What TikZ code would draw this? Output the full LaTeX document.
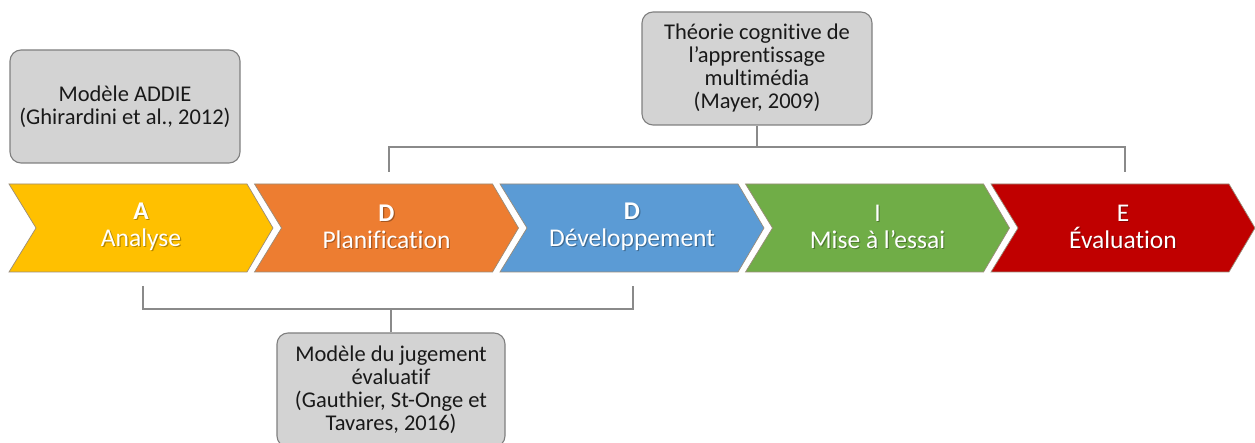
\documentclass[tikz,border=0pt]{standalone}
\usepackage{fontspec}
\setmainfont{Carlito}[Ligatures=CommonOff]
\usetikzlibrary{calc}
\definecolor{phaseA}{HTML}{FFC000}
\definecolor{phaseD}{HTML}{ED7D31}
\definecolor{phaseDev}{HTML}{5B9BD5}
\definecolor{phaseI}{HTML}{70AD47}
\definecolor{phaseE}{HTML}{C00000}
\definecolor{boxfill}{HTML}{D3D3D3}
\definecolor{boxline}{HTML}{7F7F7F}
\definecolor{linkline}{HTML}{8A8A8A}
\definecolor{chevline}{HTML}{9A8C7A}
\begin{document}
\begin{tikzpicture}[x=1pt,y=-1pt,
  refbox/.style={draw=boxline, fill=boxfill, line width=1.1pt,
    rounded corners=11pt, align=center, inner sep=0pt,
    text=black!90, font=\fontsize{22.5}{23}\selectfont},
  phase/.style={align=center, text=white, inner sep=0pt,
    font=\fontsize{25.5}{27}\selectfont},
  phaseshade/.style={phase, text=black, opacity=0.3},
  chevron/.style={draw=chevline, line width=0.7pt},
  link/.style={draw=linkline, line width=1.2pt}]
\useasboundingbox (0,0) rectangle (1255,443);
\clip (0,0) rectangle (1255,443);

% the five ADDIE phases as chevrons
\foreach \l/\col/\letter/\word/\nm in {
    9/phaseA/\textbf{A}/Analyse/pA,
    254.5/phaseD/\textbf{D}/Planification/pD,
    500/phaseDev/\textbf{D}/Développement/pDev,
    745.5/phaseI/I/Mise à l’essai/pI,
    991/phaseE/E/Évaluation/pE}{
  \fill[\col, chevron] (\l,184) -- (\l+238,184) -- (\l+264,228)
    -- (\l+238,272) -- (\l,272) -- (\l+27,228) -- cycle;
  \node[phaseshade] at (\l+133.2,228.2) {\letter\\\word};
  \node[phase] (\nm) at (\l+132,227) {\letter\\\word};
}

% reference models
\node[refbox, minimum width=230pt, minimum height=113pt] (addie) at (125,106.5)
  {Modèle ADDIE\\(Ghirardini et al., 2012)};
\node[refbox, minimum width=230pt, minimum height=113pt] (mayer) at (757,68.5)
  {Théorie cognitive de\\l’apprentissage\\multimédia\\(Mayer, 2009)};
\node[refbox, minimum width=228pt, minimum height=114pt] (gauthier) at (391,390)
  {Modèle du jugement\\évaluatif\\(Gauthier, St-Onge et\\Tavares, 2016)};

% bracket over the D, D, I, E phases
\coordinate (tl) at (389,172);
\coordinate (tr) at (1125,172);
\coordinate (tm) at (757,147);
\draw[link] (mayer.south) -- (tm);
\draw[link] (tl) -- (tl |- tm) -- (tr |- tm) -- (tr);

% bracket under the A and D phases
\coordinate (bl) at (143,286);
\coordinate (br) at (633,286);
\coordinate (bm) at (391,309);
\draw[link] (gauthier.north) -- (bm);
\draw[link] (bl) -- (bl |- bm) -- (br |- bm) -- (br);
\end{tikzpicture}
\end{document}
